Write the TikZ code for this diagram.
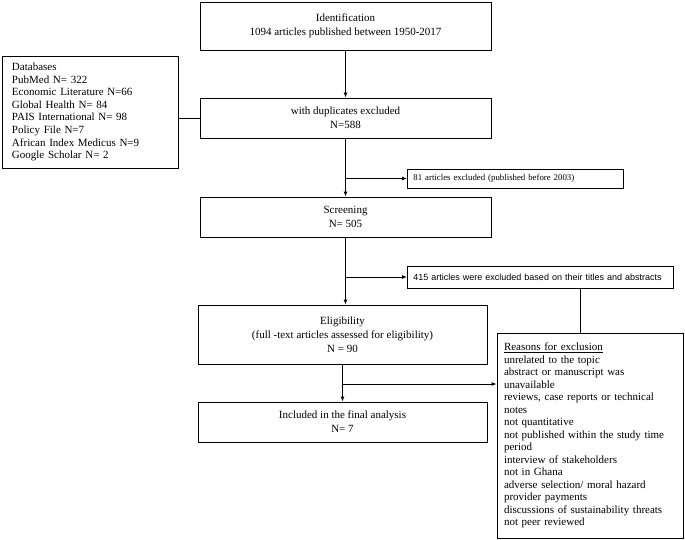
\documentclass[tikz,border=0pt]{standalone}
\usepackage{fontspec}
\setmainfont{Liberation Serif}
\setsansfont{Liberation Sans}
\usetikzlibrary{arrows.meta}
\tikzset{
  stage/.style={draw, align=center, inner sep=0pt, minimum width=291pt,
    font=\fontsize{11}{14}\selectfont},
  listbox/.style={draw, align=left, inner ysep=0pt},
  excl/.style={draw, align=left, inner xsep=6pt, inner ysep=0pt, anchor=west}
}
\begin{document}
\begin{tikzpicture}[x=1pt,y=-1pt,line width=0.9pt,>={Latex[length=5pt,width=4pt]}]
  \useasboundingbox (0,0) rectangle (685,540);
  \draw
    (345.5,26) node[stage, minimum height=48pt] (ident)
      {Identification\\1094 articles published between 1950-2017}
    (345.5,118) node[stage, minimum height=40pt] (dup)
      {with duplicates excluded\\N=588}
    (345.5,217) node[stage, minimum height=40pt] (screen)
      {Screening\\N= 505}
    (342.5,334.5) node[stage, minimum width=289pt, minimum height=59pt] (elig)
      {Eligibility\\(full -text articles assessed for eligibility)\\N = 90}
    (342.5,422) node[stage, minimum width=289pt, minimum height=40pt] (incl)
      {Included in the final analysis\\N= 7}
    (90,112) node[listbox, inner xsep=10pt, text width=156pt, minimum height=112pt,
      font=\fontsize{11}{12.6}\selectfont] (db)
      {Databases\\PubMed N= 322\\Economic Literature N=66\\Global Health N= 84\\
       PAIS International N= 98\\Policy File N=7\\African Index Medicus N=9\\
       Google Scholar N= 2}
    (407,178.5) node[excl, text width=204pt, minimum height=19pt,
      font=\fontsize{8.8}{10}\selectfont] (ex1)
      {81 articles excluded (published before 2003)}
    (407,277) node[excl, text width=254pt, minimum height=22pt,
      font=\sffamily\fontsize{9}{10}\selectfont] (ex2)
      {415 articles were excluded based on their titles and abstracts}
    (590,435.5) node[listbox, inner xsep=7pt, text width=172pt, minimum height=205pt,
      font=\fontsize{11}{12.5}\selectfont] (reasons)
      {\underline{Reasons for exclusion}\\unrelated to the topic\\
       abstract or manuscript was\\unavailable\\
       reviews, case reports or technical\\notes\\not quantitative\\
       not published within the study time\\period\\interview of stakeholders\\
       not in Ghana\\adverse selection/ moral hazard\\provider payments\\
       discussions of sustainability threats\\not peer reviewed};
  \coordinate (drop) at (580,0);
  \coordinate (split) at (342.5,384);
  \begin{scope}[->]
    \draw (ident) -- (dup);
    \draw (dup) -- (screen);
    \draw (screen.south) -- (screen.south |- elig.north);
    \draw (elig) -- (incl);
    \draw (dup.south |- ex1.west) -- (ex1.west);
    \draw (screen.south |- ex2.west) -- (ex2.west);
    \draw (split) -- (split -| reasons.west);
  \end{scope}
  \draw (db.east |- dup.west) -- (dup.west);
  \draw (ex2.south -| drop) -- (reasons.north -| drop);
\end{tikzpicture}
\end{document}
